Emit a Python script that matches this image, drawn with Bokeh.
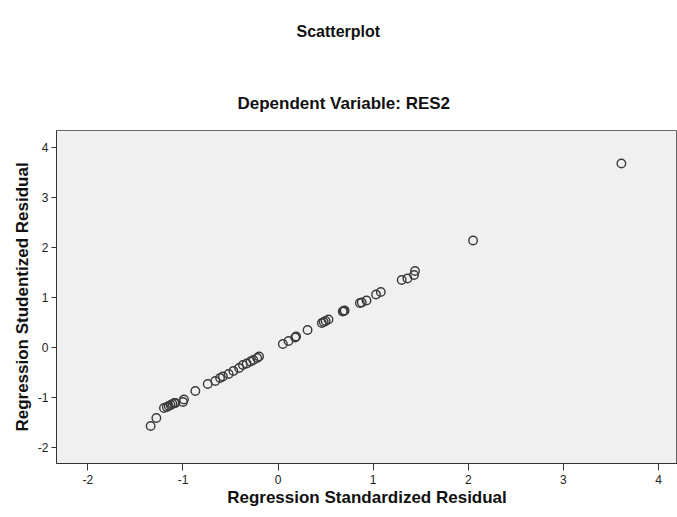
from bokeh.plotting import figure
from bokeh.models import FixedTicker, Title, ColumnDataSource
from bokeh.embed import file_html
from bokeh.resources import INLINE

# Data
std_resid = [-1.34, -1.28, -1.20, -1.17, -1.15, -1.13, -1.11, -1.09, -1.08, -1.00, -0.99,
             -0.87, -0.74, -0.66, -0.61, -0.58, -0.52, -0.47, -0.41, -0.37, -0.33, -0.29,
             -0.26, -0.22, -0.20, 0.05, 0.11, 0.18, 0.19, 0.31, 0.46, 0.48, 0.50, 0.53,
             0.68, 0.69, 0.70, 0.86, 0.88, 0.93, 1.03, 1.08, 1.30, 1.36, 1.43, 1.44,
             2.05, 3.61]
stud_resid = [-1.58, -1.42, -1.22, -1.20, -1.18, -1.16, -1.14, -1.12, -1.12, -1.10, -1.05,
              -0.88, -0.74, -0.68, -0.62, -0.59, -0.54, -0.48, -0.42, -0.36, -0.33, -0.29,
              -0.26, -0.22, -0.19, 0.06, 0.12, 0.19, 0.21, 0.34, 0.48, 0.50, 0.52, 0.55,
              0.71, 0.72, 0.73, 0.88, 0.89, 0.93, 1.05, 1.10, 1.34, 1.37, 1.44, 1.52,
              2.13, 3.67]
x_ticks = [-2, -1, 0, 1, 2, 3, 4]
y_ticks = [-2, -1, 0, 1, 2, 3, 4]

FONT = "Liberation Sans"

p = figure(width=677, height=517, x_range=(-2.33, 4.20), y_range=(-2.33, 4.33),
           output_backend="svg", toolbar_location=None,
           min_border_left=56, min_border_right=0, min_border_top=130, min_border_bottom=54)

p.background_fill_color = "#F0F0F0"
p.border_fill_color = "white"
p.outline_line_color = "#666666"
p.outline_line_width = 1
p.xgrid.visible = False
p.ygrid.visible = False

src = ColumnDataSource(dict(x=std_resid, y=stud_resid))
p.scatter("x", "y", source=src, marker="circle", size=8.5, fill_color=None,
          line_color="#3a3a3a", line_width=1.4)

for ax, ticks in ((p.xaxis[0], x_ticks), (p.yaxis[0], y_ticks)):
    ax.ticker = FixedTicker(ticks=ticks)
    ax.major_label_overrides = {t: str(t) for t in ticks}
    ax.minor_tick_line_color = None
    ax.major_tick_in = 0
    ax.axis_line_color = "#333333"
    ax.major_tick_line_color = "#333333"
    ax.major_label_text_font = FONT
    ax.major_label_text_font_size = "12px"
    ax.major_label_text_color = "#222222"
    ax.axis_label_text_font = FONT
    ax.axis_label_text_font_style = "bold"
    ax.axis_label_text_font_size = "17px"
    ax.axis_label_text_color = "#111111"

p.xaxis.axis_label = "Regression Standardized Residual"
p.yaxis.axis_label = "Regression Studentized Residual"
p.xaxis.major_tick_out = 7
p.yaxis.major_tick_out = 5
p.xaxis.major_label_standoff = 4
p.yaxis.major_label_standoff = 3
p.xaxis.axis_label_standoff = 1
p.yaxis.axis_label_standoff = 3

# Titles stack upward from the plot frame in the order they are added
sub = Title(text="Dependent Variable: RES2", text_font=FONT, text_font_style="bold",
            text_font_size="17px", text_color="#111111", align="left", offset=181,
            standoff=36)
spacer = Title(text=" ", text_font=FONT, text_font_size="1px", standoff=29)
main = Title(text="Scatterplot", text_font=FONT, text_font_style="bold",
             text_font_size="16px", text_color="#111111", align="left", offset=240,
             standoff=0, vertical_align="top")
p.add_layout(sub, "above")
p.add_layout(spacer, "above")
p.add_layout(main, "above")

open("out.html", "w").write(file_html(p, INLINE))
